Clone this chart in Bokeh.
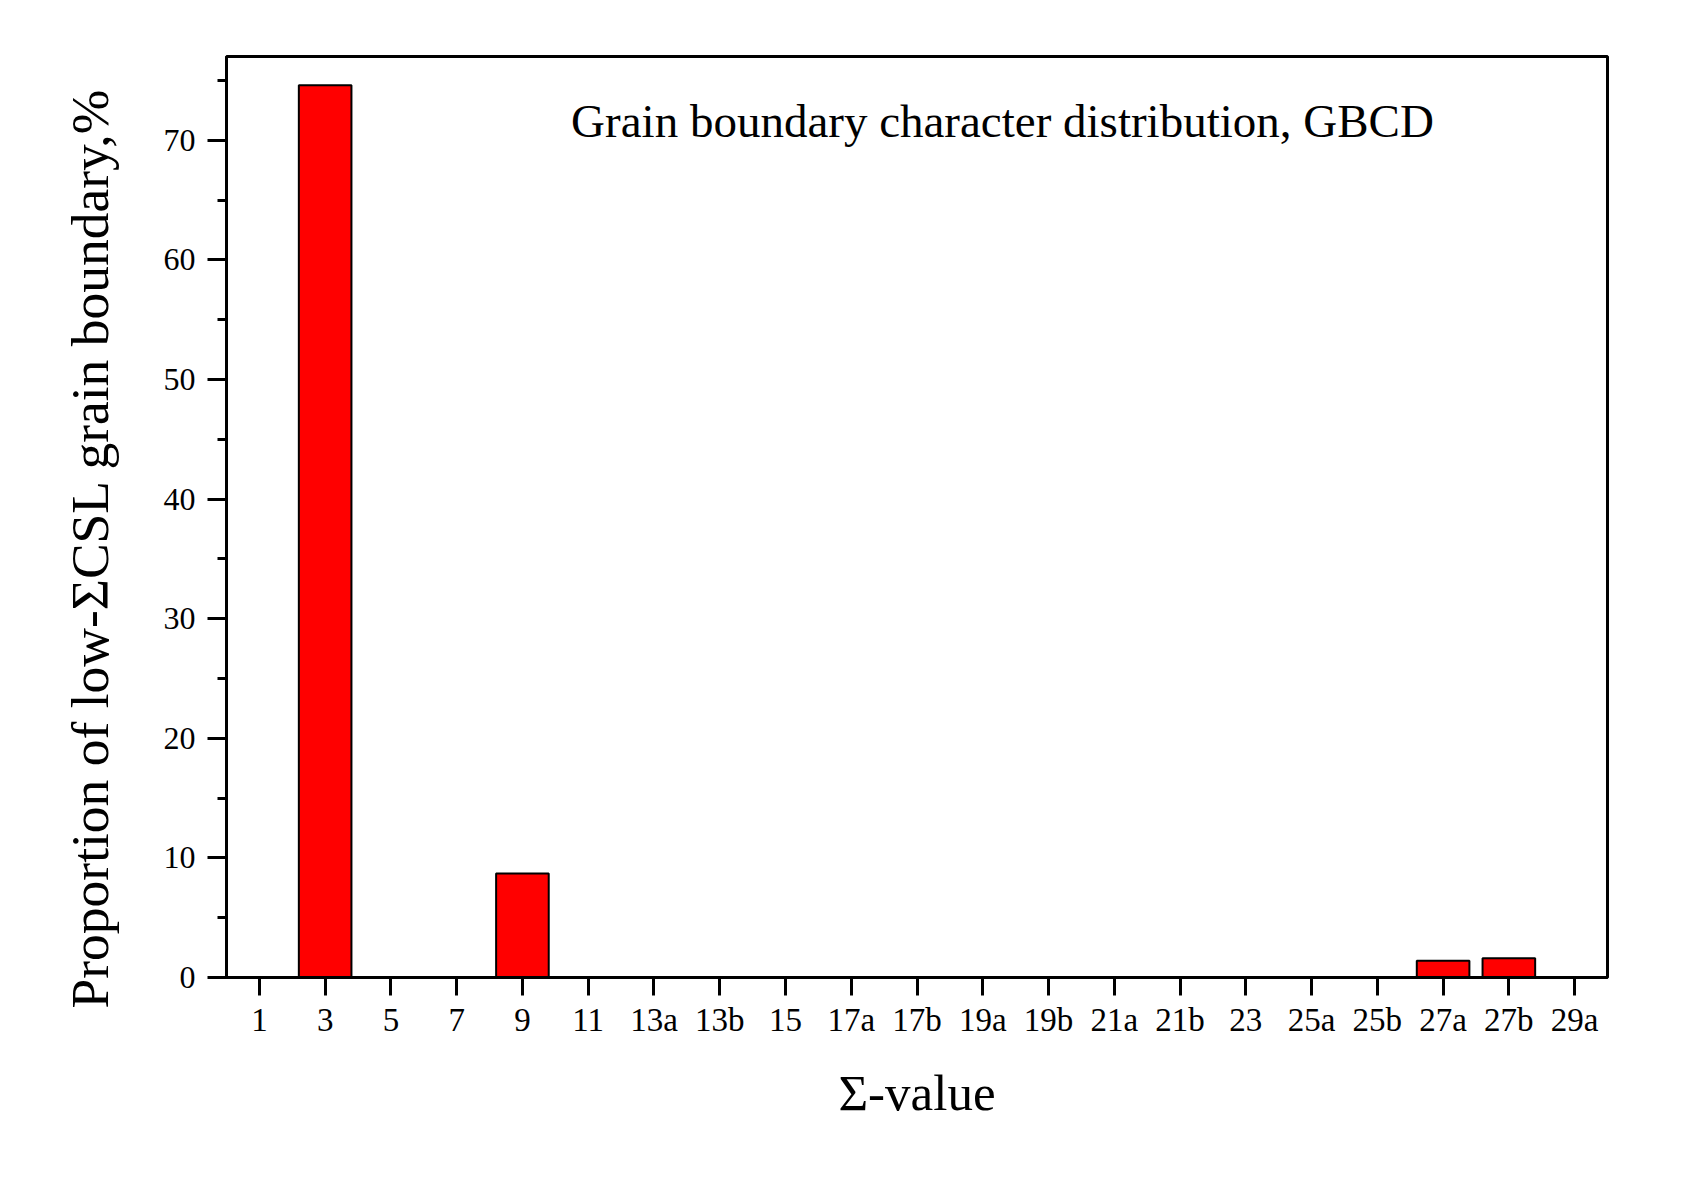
from bokeh.plotting import figure
from bokeh.models import FactorRange, Range1d, ColumnDataSource, SingleIntervalTicker, Label, Title
from bokeh.embed import file_html
from bokeh.resources import INLINE

sigma_labels = ["1", "3", "5", "7", "9", "11", "13a", "13b", "15", "17a", "17b",
                "19a", "19b", "21a", "21b", "23", "25a", "25b", "27a", "27b", "29a"]
proportion = [0, 74.6, 0, 0, 8.7, 0, 0, 0, 0, 0, 0,
              0, 0, 0, 0, 0, 0, 0, 1.4, 1.6, 0]

FONT = "Liberation Serif"

src = ColumnDataSource(data=dict(sigma=sigma_labels, prop=proportion))

p = figure(width=1679, height=1167, output_backend="svg", toolbar_location=None,
           x_range=FactorRange(factors=sigma_labels, range_padding=0),
           y_range=Range1d(0, 77),
           min_border_left=226, min_border_right=72, min_border_top=56, min_border_bottom=190)

p.vbar(x="sigma", top="prop", width=0.8, source=src, fill_color="#FF0000",
       line_color="black", line_width=2)

p.xgrid.visible = False
p.ygrid.visible = False
p.background_fill_color = "white"
p.border_fill_color = "white"
p.outline_line_color = "black"
p.outline_line_width = 3
p.outline_line_alpha = 1

# x axis
xa = p.xaxis[0]
xa.axis_line_width = 3
xa.major_tick_line_width = 3
xa.major_tick_out = 18
xa.major_tick_in = 0
xa.minor_tick_line_color = None
xa.major_label_text_font = FONT
xa.major_label_text_font_size = "33px"
xa.major_label_text_color = "black"
xa.major_label_standoff = 6
xa.axis_label = "Σ-value"
xa.axis_label_text_font = FONT
xa.axis_label_text_font_size = "51px"
xa.axis_label_text_font_style = "normal"
xa.axis_label_text_color = "black"
xa.axis_label_standoff = 24

# y axis
ya = p.yaxis[0]
ya.ticker = SingleIntervalTicker(interval=10, num_minor_ticks=2)
ya.axis_line_width = 3
ya.major_tick_line_width = 3
ya.minor_tick_line_width = 3
ya.major_tick_out = 19
ya.major_tick_in = 0
ya.minor_tick_out = 9
ya.minor_tick_in = 0
ya.major_label_text_font = FONT
ya.major_label_text_font_size = "32px"
ya.major_label_text_color = "black"
ya.major_label_standoff = 12

ytitle = Title(text="Proportion of low-ΣCSL grain boundary,%", align="left",
               offset=-31, standoff=81, text_font=FONT, text_font_size="53.5px",
               text_font_style="normal", text_color="black")
p.add_layout(ytitle, "left")

title = Label(x=11.8, y=71.6, text="Grain boundary character distribution, GBCD",
              text_font=FONT, text_font_size="47px", text_color="black",
              text_align="center", text_baseline="middle")
p.add_layout(title)

open("out.html", "w").write(file_html(p, INLINE))
